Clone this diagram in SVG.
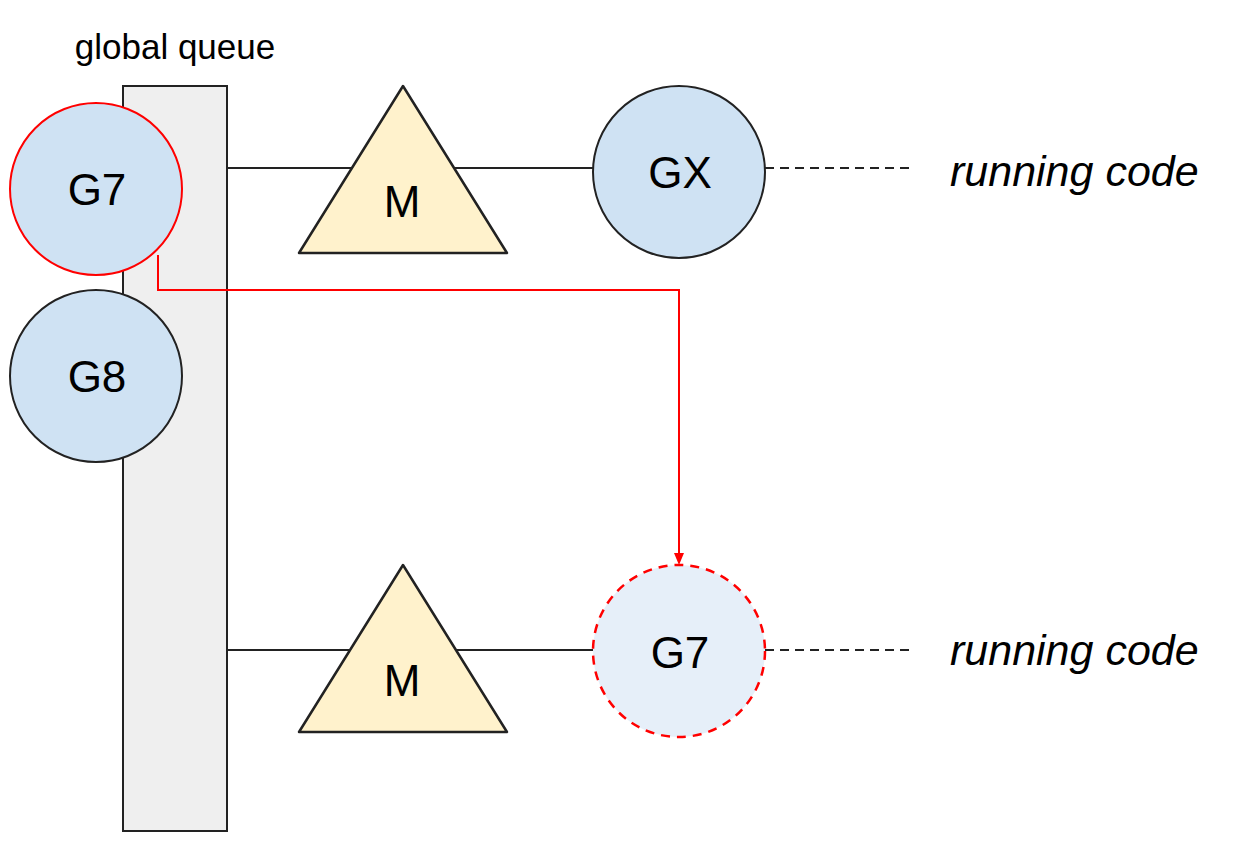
<svg xmlns="http://www.w3.org/2000/svg" width="1233" height="857" viewBox="0 0 1233 857">
<style>
text{font-family:"Liberation Sans",Arial,sans-serif;fill:#000}
.lbl{font-size:44px;text-anchor:middle}
.run{font-size:43px;font-style:italic}
.g{fill:#cfe2f3;stroke:#222;stroke-width:2}
.m{fill:#fff2cc;stroke:#222;stroke-width:2.5;stroke-linejoin:round}
.ln{stroke:#222;stroke-width:2;fill:none}
.dash{stroke:#222;stroke-width:2;stroke-dasharray:9 6;fill:none}
</style>
<rect width="1233" height="857" fill="#fff"/>
<g id="queue">
<rect x="123" y="86" width="104" height="745" fill="#efefef" stroke="#222" stroke-width="2"/>
<text x="175" y="59" style="font-size:35px;text-anchor:middle">global queue</text>
</g>
<g id="connectors">
<line class="ln" x1="227" y1="168" x2="593" y2="168"/>
<line class="ln" x1="227" y1="650" x2="593" y2="650"/>
<line class="dash" x1="765" y1="168" x2="912" y2="168"/>
<line class="dash" x1="765" y1="650" x2="912" y2="650"/>
<polyline points="158,255 158,290 679,290 679,554" fill="none" stroke="#ff0000" stroke-width="2"/>
<path d="M674,553 L684,553 L679,565 Z" fill="#ff0000"/>
</g>
<g id="g7">
<circle cx="96" cy="189" r="86" fill="#cfe2f3" stroke="#ff0000" stroke-width="2"/>
<text class="lbl" x="97" y="205">G7</text>
</g>
<g id="g8">
<circle class="g" cx="96" cy="376" r="86"/>
<text class="lbl" x="97" y="392">G8</text>
</g>
<g id="m1">
<polygon class="m" points="403,86 507,253 299,253"/>
<text class="lbl" x="402" y="217">M</text>
</g>
<g id="gx">
<circle class="g" cx="679" cy="172" r="86"/>
<text class="lbl" x="680" y="188">GX</text>
</g>
<g id="m2">
<polygon class="m" points="403,565 507,732 299,732"/>
<text class="lbl" x="402" y="696">M</text>
</g>
<g id="g7b">
<circle cx="679" cy="651" r="86" fill="#e6eff9" stroke="#ff0000" stroke-width="2.5" stroke-dasharray="9 7"/>
<text class="lbl" x="680" y="668">G7</text>
</g>
<g id="run1">
<text class="run" x="950" y="186">running code</text>
</g>
<g id="run2">
<text class="run" x="950" y="665">running code</text>
</g>
</svg>
